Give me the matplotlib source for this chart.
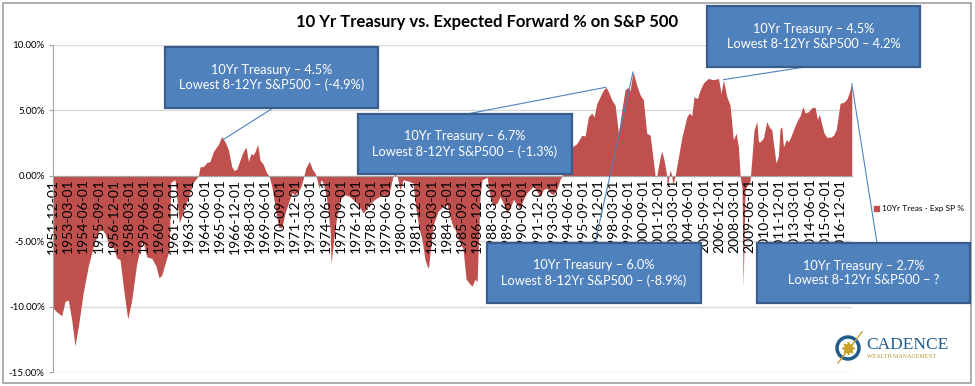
import numpy as np
import pandas as pd
import matplotlib
matplotlib.use('Agg')
import matplotlib.pyplot as plt
from matplotlib.patches import Rectangle, Ellipse, Patch, ConnectionPatch
from matplotlib.lines import Line2D

plt.rcParams['font.family'] = ['Lato', 'DejaVu Sans']

# spread (decimal year, %)
years = [1951.92, 1952.22, 1952.64, 1952.91, 1953.18, 1953.46, 1953.73, 1954.01, 1954.42, 1954.83,
         1955.25, 1955.66, 1955.94, 1956.21, 1956.57, 1956.90, 1957.18, 1957.45, 1957.78, 1958.09,
         1958.42, 1958.83, 1959.24, 1959.38, 1959.66, 1960.07, 1960.42, 1960.67, 1960.90, 1961.17,
         1961.52, 1961.64, 1961.99, 1962.35, 1962.96, 1963.51, 1963.92, 1964.06, 1964.33, 1964.61,
         1964.88, 1965.16, 1965.57, 1965.85, 1966.12, 1966.40, 1966.68, 1966.89, 1967.09, 1967.36,
         1967.63, 1967.86, 1968.05, 1968.27, 1968.46, 1968.60, 1968.82, 1969.01, 1969.29, 1969.57,
         1969.76, 1969.98, 1970.25, 1970.53, 1970.81, 1971.08, 1971.35, 1971.63, 1971.90, 1972.18,
         1972.40, 1972.59, 1972.79, 1973.09, 1973.33, 1973.56, 1973.70, 1973.89, 1974.05, 1974.24,
         1974.52, 1974.80, 1974.88, 1975.07, 1975.35, 1975.70, 1976.03, 1976.45, 1977.00, 1977.55,
         1978.10, 1978.65, 1979.20, 1979.59, 1979.75, 1980.00, 1980.16, 1980.33, 1980.58, 1980.83,
         1981.24, 1981.65, 1981.90, 1982.12, 1982.39, 1982.64, 1982.81, 1982.93, 1983.06, 1983.30,
         1983.72, 1984.13, 1984.46, 1984.71, 1984.96, 1985.12, 1985.37, 1985.78, 1986.03, 1986.28,
         1986.52, 1986.77, 1986.94, 1987.02, 1987.19, 1987.35, 1987.60, 1987.76, 1988.01, 1988.26,
         1988.56, 1988.84, 1989.11, 1989.39, 1989.66, 1989.94, 1990.22, 1990.49, 1990.76, 1991.04,
         1991.31, 1991.59, 1991.87, 1992.14, 1992.41, 1992.69, 1992.97, 1993.24, 1993.52, 1993.79,
         1994.04, 1994.29, 1994.54, 1994.76, 1995.17, 1995.58, 1995.86, 1996.13, 1996.41, 1996.60,
         1996.82, 1997.10, 1997.37, 1997.59, 1997.78, 1998.06, 1998.34, 1998.61, 1998.89, 1999.16,
         1999.43, 1999.57, 1999.82, 2000.13, 2000.40, 2000.67, 2000.95, 2001.23, 2001.42, 2001.64,
         2001.78, 2002.05, 2002.19, 2002.38, 2002.60, 2002.65, 2002.79, 2002.88, 2003.02, 2003.10,
         2003.29, 2003.56, 2003.84, 2004.26, 2004.47, 2004.67, 2004.86, 2005.13, 2005.36, 2005.63,
         2006.04, 2006.40, 2006.73, 2006.87, 2007.09, 2007.28, 2007.56, 2007.83, 2008.10, 2008.33,
         2008.52, 2008.66, 2008.82, 2008.91, 2009.07, 2009.48, 2009.62, 2009.81, 2010.04, 2010.17,
         2010.31, 2010.58, 2010.86, 2011.05, 2011.28, 2011.41, 2011.63, 2011.82, 2011.96, 2012.10,
         2012.24, 2012.46, 2012.65, 2012.85, 2013.06, 2013.34, 2013.62, 2013.84, 2014.03, 2014.30,
         2014.58, 2014.85, 2015.04, 2015.21, 2015.41, 2015.60, 2015.82, 2016.15, 2016.37, 2016.59,
         2016.78, 2016.92, 2017.19, 2017.47, 2017.69, 2017.88]

spread = [-10.1, -10.4, -10.7, -9.6, -9.5, -11.0, -13.0, -11.5, -8.9, -6.9,
          -5.4, -4.25, -4.1, -4.4, -5.35, -5.5, -6.3, -6.4, -8.9, -10.95,
          -9.5, -6.7, -5.1, -5.1, -6.2, -6.3, -6.9, -7.8, -7.6, -6.7,
          -5.65, -0.5, -0.3, -3.6, -2.0, -0.5, 0.0, 0.7, 0.7, 1.0,
          1.1, 1.85, 2.4, 3.0, 2.6, 2.0, 0.7, 0.4, 0.5, 1.2,
          1.85, 2.2, 1.1, 1.7, 1.6, 1.85, 2.4, 1.2, 0.85, 0.2,
          0.0, -0.8, -2.3, -3.9, -4.0, -2.85, -2.1, -1.3, -1.45, -1.2,
          -0.8, -0.2, 0.6, 1.1, 0.5, 0.2, -0.2, -0.95, -0.3, -0.55,
          -1.8, -4.1, -6.7, -5.1, -3.1, -1.7, -1.45, -1.6, -2.1, -2.85,
          -2.1, -1.7, -1.45, -1.6, -1.07, 0.0, 0.1, 0.0, -1.1, -0.3,
          -0.4, -0.55, -2.6, -3.9, -4.9, -6.4, -6.9, -7.05, -5.8, -3.8,
          -2.7, -2.35, -2.2, -3.2, -3.9, -4.1, -4.8, -5.6, -7.9, -8.2,
          -8.45, -7.9, -8.1, -5.9, -1.5, -0.3, -0.2, -0.1, -1.6, -2.3,
          -2.1, -1.6, -2.1, -2.85, -2.5, -1.8, -2.2, -2.5, -1.8, -1.3,
          -1.05, -0.8, -1.2, -1.6, -1.05, -0.95, -1.3, -1.45, -1.05, -0.3,
          0.2, 0.8, 1.5, 2.2, 2.45, 3.1, 3.05, 4.5, 4.8, 4.5,
          5.5, 6.05, 6.55, 6.77, 6.45, 5.8, 5.4, 3.25, 5.0, 6.6,
          6.75, 6.5, 7.95, 6.9, 6.2, 5.8, 3.25, 3.1, 1.7, 0.0,
          0.0, 1.4, 1.9, 1.2, 0.0, -1.07, 0.0, 0.45, 0.0, -0.7,
          0.0, 1.4, 2.9, 4.5, 4.8, 4.6, 6.05, 5.9, 6.55, 7.1,
          7.45, 7.35, 7.4, 7.45, 6.3, 7.35, 6.05, 5.4, 2.75, 3.25,
          2.2, 0.0, -1.0, -8.5, -1.0, -0.4, 1.2, 3.5, 4.15, 2.6,
          2.6, 2.87, 4.15, 3.75, 3.5, 2.5, 0.97, 1.5, 3.6, 3.75,
          2.2, 2.75, 2.6, 3.0, 3.5, 4.15, 4.6, 5.3, 4.8, 4.9,
          5.2, 5.25, 4.3, 4.7, 3.9, 3.25, 2.95, 2.95, 3.1, 3.5,
          4.65, 5.55, 5.6, 5.85, 6.4, 7.05]

tick_dates = pd.date_range('1951-12-01', '2016-12-01', freq='15MS')
tick_pos = list(tick_dates.year + (tick_dates.month - 1) / 12)
tick_labels = list(tick_dates.strftime('%Y-%m-%d'))
y_ticks = [-15, -10, -5, 0, 5, 10]

title = '10 Yr Treasury vs. Expected Forward % on S&P 500'
legend_label = '10Yr Treas - Exp SP %'

callout_text = ['10Yr Treasury – 4.5%\nLowest 8-12Yr S&P500 – (-4.9%)',
                '10Yr Treasury – 6.7%\nLowest 8-12Yr S&P500 – (-1.3%)',
                '10Yr Treasury – 4.5%\nLowest 8-12Yr S&P500 – 4.2%',
                '10Yr Treasury – 6.0%\nLowest 8-12Yr S&P500 – (-8.9%)',
                '10Yr Treasury – 2.7%\nLowest 8-12Yr S&P500 – ?']
callout_years = [1966.0, 1997.59, 2007.28, 1999.82, 2017.88]

# box placement in pixels: left, top, right, bottom, and where the pointer leaves the box
box_px = [(165, 47, 378, 108), (358, 114, 572, 174), (707, 6, 920, 67),
          (487, 243, 701, 303), (757, 243, 970, 303)]
anchor_px = [(273, 108), (467, 114), (805, 67), (595, 243), (877, 243)]

W, H = 975, 386
red = '#C0504D'
blue = '#4F81BD'


def px(x, y):
    return x / W, 1 - y / H


fig = plt.figure(figsize=(W / 100, H / 100), dpi=100)
ax = fig.add_axes([53 / W, 1 - 372 / H, 799 / W, 327 / H])

for yv in y_ticks:
    ax.axhline(yv, color='#D9D9D9', lw=1, zorder=0)

ax.fill_between(years, spread, 0, color=red, lw=0, zorder=1)

ax.set_xlim(1951.917, 2017.9)
ax.set_ylim(-15, 10)
ax.set_yticks(y_ticks)
ax.set_yticklabels(['%.2f%%' % v for v in y_ticks], fontsize=7)
ax.set_xticks(tick_pos)
ax.set_xticklabels(tick_labels, fontsize=7.2)
ax.tick_params(axis='x', length=0, pad=2, labelrotation=90)
ax.tick_params(axis='y', length=3, color='#A6A6A6', pad=3)

ax.spines['top'].set_visible(False)
ax.spines['right'].set_visible(False)
ax.spines['bottom'].set_position(('data', 0))
ax.spines['bottom'].set_color('#A6A6A6')
ax.spines['left'].set_color('#A6A6A6')

fig.text(0.5, 1 - 22 / H, title, ha='center', va='center', fontsize=12, fontweight='bold')

fig.legend(handles=[Patch(color=red)], labels=[legend_label], loc='center left',
           bbox_to_anchor=px(866, 209), frameon=False, fontsize=6,
           handlelength=0.6, handleheight=0.6, handletextpad=0.4)

# callouts
for text, yr, box, anc in zip(callout_text, callout_years, box_px, anchor_px):
    target = (yr, np.interp(yr, years, spread))
    con = ConnectionPatch(xyA=px(*anc), coordsA=fig.transFigure, xyB=target,
                          coordsB=ax.transData, color=blue, lw=0.8, zorder=3)
    fig.add_artist(con)
    l, t, r, b = box
    fig.add_artist(Rectangle(px(l, b), (r - l) / W, (b - t) / H, transform=fig.transFigure,
                             facecolor=blue, edgecolor='#385D8A', lw=1.6, zorder=4))
    fig.text(*px((l + r) / 2, (t + b) / 2), text, ha='center', va='center', color='white',
             fontsize=9.2, linespacing=1.3, zorder=5)

# logo
fig.add_artist(Ellipse(px(848, 348), 22 / W, 22 / H, transform=fig.transFigure,
                       fill=False, edgecolor='#1F5C8B', lw=2.5))
fig.add_artist(Line2D([px(838, 363)[0], px(862, 332)[0]], [px(838, 363)[1], px(862, 332)[1]],
                      transform=fig.transFigure, color='#C9A227', lw=1))
fig.add_artist(Line2D([px(848, 348)[0]], [px(848, 348)[1]], transform=fig.transFigure,
                      marker=(8, 1, 0), ms=9, color='#C9A227', lw=0))
fig.text(*px(866, 345), 'CADENCE', ha='left', va='center', fontsize=12.5,
         family='Liberation Serif', color='#1F5C8B')
fig.text(*px(867, 356), 'WEALTH MANAGEMENT', ha='left', va='center', fontsize=4.3,
         family='Liberation Serif', color='#B8962E')

# outer frame
fig.add_artist(Rectangle((3 / W, 3 / H), 968 / W, 380 / H, transform=fig.transFigure,
                         fill=False, edgecolor='#A0A0A0', lw=1.2))

fig.savefig('out.png', dpi=100)
